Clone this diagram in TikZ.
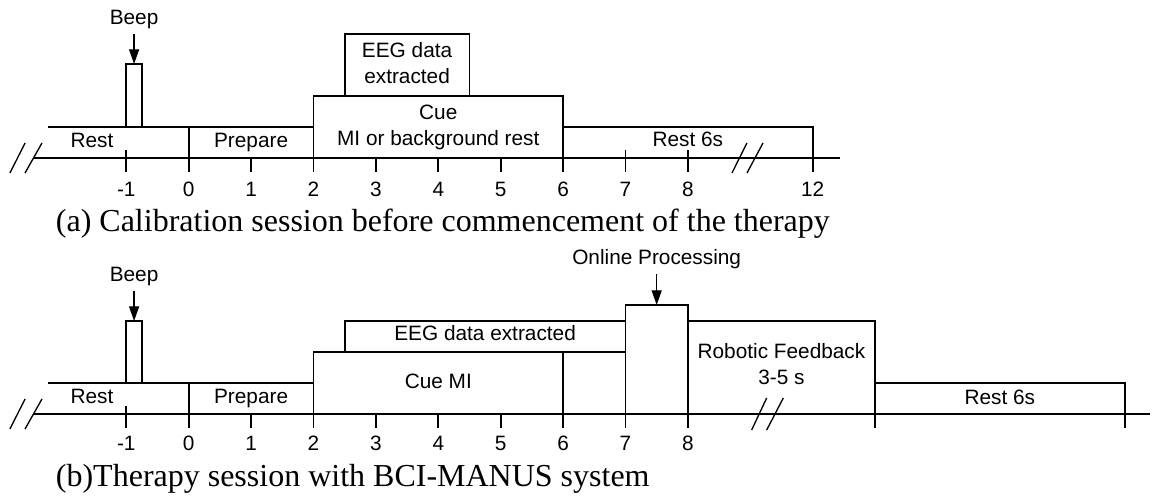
\documentclass[tikz,border=0pt]{standalone}
\usepackage{fontspec}
\setmainfont{Liberation Serif}
\setsansfont{Liberation Sans}
\usetikzlibrary{arrows.meta}

\begin{document}
\begin{tikzpicture}[
  x=46.8pt, y=-0.75pt,
  font=\sffamily\fontsize{15.6pt}{19.5pt}\selectfont,
  line width=1.45pt,
  lbl/.style={anchor=base, inner sep=0pt, align=center},
  num/.style={anchor=base, inner sep=0pt},
  captxt/.style={anchor=base west, inner sep=0pt, font=\rmfamily\fontsize{24pt}{28pt}\selectfont},
  cue/.style={-{Triangle[length=11pt, width=7.5pt]}, line width=1pt, shorten <=3pt},
  brk/.style={line width=1pt}
]
  \useasboundingbox (-3.024,0) rectangle (15.47,496);

  % (a) calibration
  \draw (-2.495,158) -- (10.44,158);
  \draw[brk] (-2.864,173) -- (-2.623,143) (-2.623,173) -- (-2.351,143);
  \draw[brk] (8.707,173) -- (8.947,143) (8.947,173) -- (9.204,143);
  \draw (-2.255,127) -- (2,127);
  \draw (0,127) -- (0,172);
  \draw (2,172) -- (2,96) -- (6,96) -- (6,172);
  \draw (2.5,96) -- (2.5,34) -- (4.5,34) -- (4.5,96);
  \draw (6,127) -- (10,127) -- (10,172);
  \draw (-1,127) -- (-1,64) -- (-0.75,64) -- (-0.75,127);
  \foreach \t in {1,...,5} \draw (\t,158) -- (\t,172);
  \foreach \t in {-1,7,8} \draw (\t,150) -- (\t,172);
  \foreach \t/\v in {-1/-1,0/0,1/1,2/2,3/3,4/4,5/5,6/6,7/7,8/8,10/12}
    \node[num] (a\v) at (\t,197) {\v};

  \coordinate (beepA) at (-0.875,64);
  \node[num] (beeptxtA) at (-0.875,25) {Beep};
  \draw[cue] (beeptxtA) -- (beepA);

  \node[lbl] (restA) at (-1.55,148) {Rest};
  \node[lbl] (prepA) at (1,148) {Prepare};
  \node[lbl] (cueA) at (4,146) {Cue\\MI or background rest};
  \node[lbl] (eegA) at (3.5,83.5) {EEG data\\extracted};
  \node[lbl] (rest6A) at (8,147) {Rest 6s};

  \node[captxt] (capA) at (-2.143,232) {(a) Calibration session before commencement of the therapy};

  % (b) therapy
  \draw (-2.495,414) -- (15.40,414);
  \draw[brk] (-2.864,429) -- (-2.623,399) (-2.623,429) -- (-2.351,399);
  \draw[brk] (9.022,430) -- (9.263,398) (9.263,430) -- (9.529,398);
  \draw (-2.255,383) -- (2,383);
  \draw (0,383) -- (0,428);
  \draw (2,428) -- (2,352) -- (7,352);
  \draw (6,352) -- (6,428);
  \draw (2.5,352) -- (2.5,321) -- (7,321);
  \draw (7,428) -- (7,305) -- (8,305) -- (8,428);
  \draw (8,321) -- (11,321) -- (11,428);
  \draw (11,383) -- (15,383) -- (15,428);
  \draw (-1,383) -- (-1,321) -- (-0.75,321) -- (-0.75,383);
  \foreach \t in {1,3,4,5} \draw (\t,414) -- (\t,428);
  \draw (-1,406) -- (-1,428);
  \foreach \t in {-1,...,8}
    \node[num] (b\t) at (\t,451) {\t};

  \coordinate (beepB) at (-0.875,321);
  \node[num] (beeptxtB) at (-0.875,282) {Beep};
  \draw[cue] (beeptxtB) -- (beepB);

  \coordinate (onlineB) at (7.5,305);
  \node[num] (onlinetxtB) at (7.5,265) {Online Processing};
  \draw[cue] (onlinetxtB) -- (onlineB);

  \node[lbl] (restB) at (-1.55,404) {Rest};
  \node[lbl] (prepB) at (1,404) {Prepare};
  \node[lbl] (cueB) at (4,389) {Cue MI};
  \node[lbl] (eegB) at (4.75,341) {EEG data extracted};
  \node[lbl] (robotB) at (9.5,385) {Robotic Feedback\\3-5 s};
  \node[lbl] (rest6B) at (13,405) {Rest 6s};

  \node[captxt] (capB) at (-2.143,487) {(b)Therapy session with BCI-MANUS system};
\end{tikzpicture}
\end{document}
